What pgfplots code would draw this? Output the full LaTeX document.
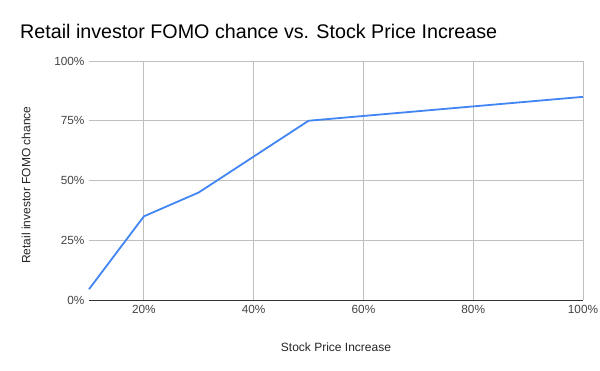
\documentclass[border=0pt]{standalone}
\usepackage{pgfplots}
\pgfplotsset{compat=1.18}
\usepackage{fontspec}
\setmainfont{Liberation Sans}
\definecolor{gline}{HTML}{4285F4}
\definecolor{grid}{HTML}{CCCCCC}
\definecolor{tick}{HTML}{444444}
\begin{document}
\begin{tikzpicture}[x=1pt,y=1pt]
\useasboundingbox[fill=white] (0,0) rectangle (600,371);
\node[anchor=base west, font=\fontsize{19.7}{23}\selectfont, inner sep=0] at (20,332) {Retail investor FOMO chance vs. Stock Price Increase};
\begin{axis}[
  at={(89pt,71pt)}, anchor=south west,
  scale only axis, width=494pt, height=239pt,
  xmin=10, xmax=100, ymin=0, ymax=100,
  xtick={20,40,60,80,100}, xticklabels={20\%,40\%,60\%,80\%,100\%},
  ytick={0,25,50,75,100}, yticklabels={0\%,25\%,50\%,75\%,100\%},
  grid=major, major grid style={grid, line width=0.8pt},
  major tick length=0pt,
  axis line style={draw=none},
  ticklabel style={font=\fontsize{11.8}{14}\selectfont, text=tick},
  xticklabel style={yshift=-2pt},
  yticklabel style={xshift=-1pt},
  xlabel={Stock Price Increase}, ylabel={Retail investor FOMO chance},
  label style={font=\fontsize{12}{14}\selectfont, text=black!85},
  xlabel style={at={(axis description cs:0.5,-0.197)}, anchor=center},
  ylabel style={at={(axis description cs:-0.1275,0.48)}, anchor=center, rotate=0},
  clip=false,
]
\addplot[gline, line width=1.8pt, line join=round] coordinates {
  (10,4.5) (20,35) (30,45) (50,75) (100,85)
};
\draw[black!80, line width=0.9pt] (axis cs:10,0) -- (axis cs:100,0);
\end{axis}
\end{tikzpicture}
\end{document}
